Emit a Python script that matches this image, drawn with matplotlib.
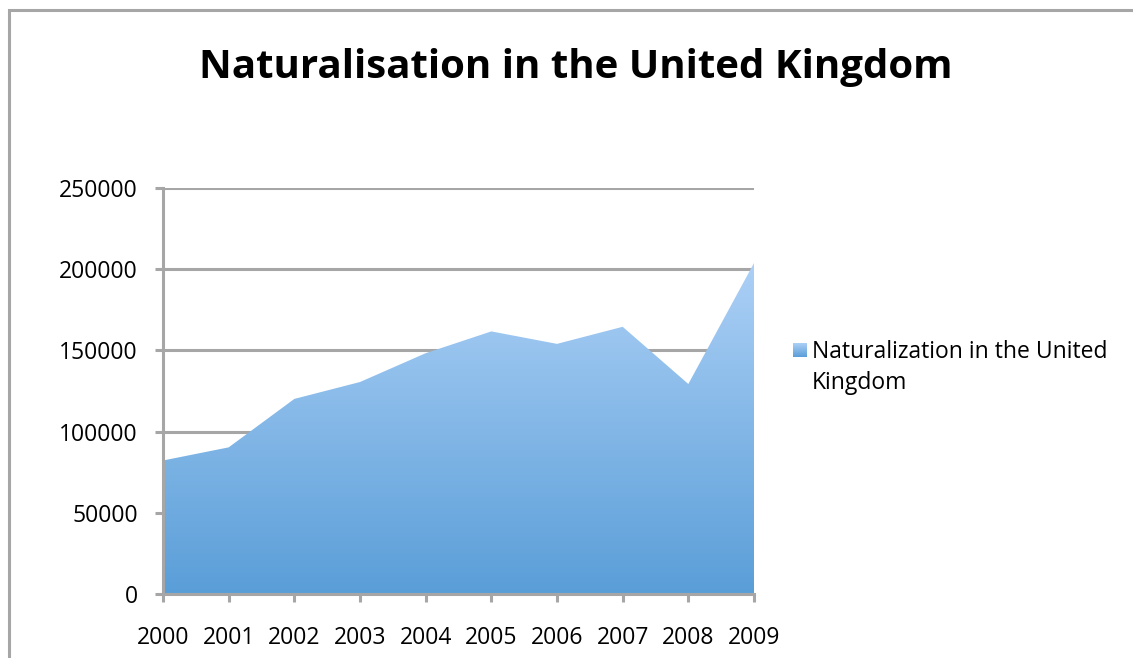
import matplotlib
matplotlib.use("Agg")
import matplotlib.pyplot as plt
import numpy as np
from matplotlib.colors import LinearSegmentedColormap
from matplotlib.patches import Rectangle

years = ["2000", "2001", "2002", "2003", "2004", "2005", "2006", "2007", "2008", "2009"]
naturalisations = [82210, 90295, 120125, 130535, 148275, 161700, 154015, 164540, 129310, 203790]
y_ticks = [0, 50000, 100000, 150000, 200000, 250000]

title = "Naturalisation in the United Kingdom"
series_name = "Naturalization in the United\nKingdom"

grey = "#a6a6a6"
fill_map = LinearSegmentedColormap.from_list("fill", ["#5a9ed8", "#acd0f6"])

plt.rcParams["font.family"] = ["Open Sans", "DejaVu Sans"]

fig = plt.figure(figsize=(11.33, 6.58), dpi=100)

# outer chart frame, clipped by the right and bottom edges
fig.patches.append(Rectangle((9 / 1133, -0.05), 1.2, 1 - 10 / 658 + 0.05,
                             transform=fig.transFigure, fill=False,
                             edgecolor=grey, linewidth=2.2))

ax = fig.add_axes([163 / 1133, 1 - 594 / 658, 591 / 1133, 406 / 658])
x = np.arange(len(years))
y = np.array(naturalisations)

poly = ax.fill_between(x, 0, y, facecolor="none", edgecolor="none", zorder=2)
grad = np.linspace(0, 1, 256).reshape(-1, 1)
img = ax.imshow(grad, cmap=fill_map, origin="lower", aspect="auto",
                extent=[x[0], x[-1], 0, y.max()], zorder=2)
img.set_clip_path(poly.get_paths()[0], transform=ax.transData)

ax.set_xlim(x[0], x[-1])
ax.set_ylim(0, 250000)
ax.set_xticks(x)
ax.set_xticklabels(years)
ax.set_yticks(y_ticks)
ax.set_yticklabels([str(v) for v in y_ticks])

ax.grid(axis="y", color=grey, linewidth=2.2, zorder=1)
ax.set_axisbelow(True)
for side in ["top", "right"]:
    ax.spines[side].set_visible(False)
for side in ["left", "bottom"]:
    ax.spines[side].set_color(grey)
    ax.spines[side].set_linewidth(2.2)
    ax.spines[side].set_zorder(3)
ax.tick_params(axis="both", colors=grey, width=2.2, length=6, labelcolor="black",
               labelsize=16.5)
ax.tick_params(axis="x", pad=17)
ax.tick_params(axis="y", pad=12)

fig.text(0.508, 1 - 78 / 658, title, ha="center", va="baseline",
         fontsize=29, fontweight="bold")

# legend: gradient square and wrapped label
leg_ax = fig.add_axes([793 / 1133, 1 - 357 / 658, 14 / 1133, 14 / 658])
leg_ax.imshow(grad, cmap=fill_map, origin="lower", aspect="auto")
leg_ax.axis("off")
fig.text(812 / 1133, 1 - 340 / 658, series_name, ha="left", va="top",
         fontsize=16.5, linespacing=1.38)

fig.savefig("out.png", dpi=100)
